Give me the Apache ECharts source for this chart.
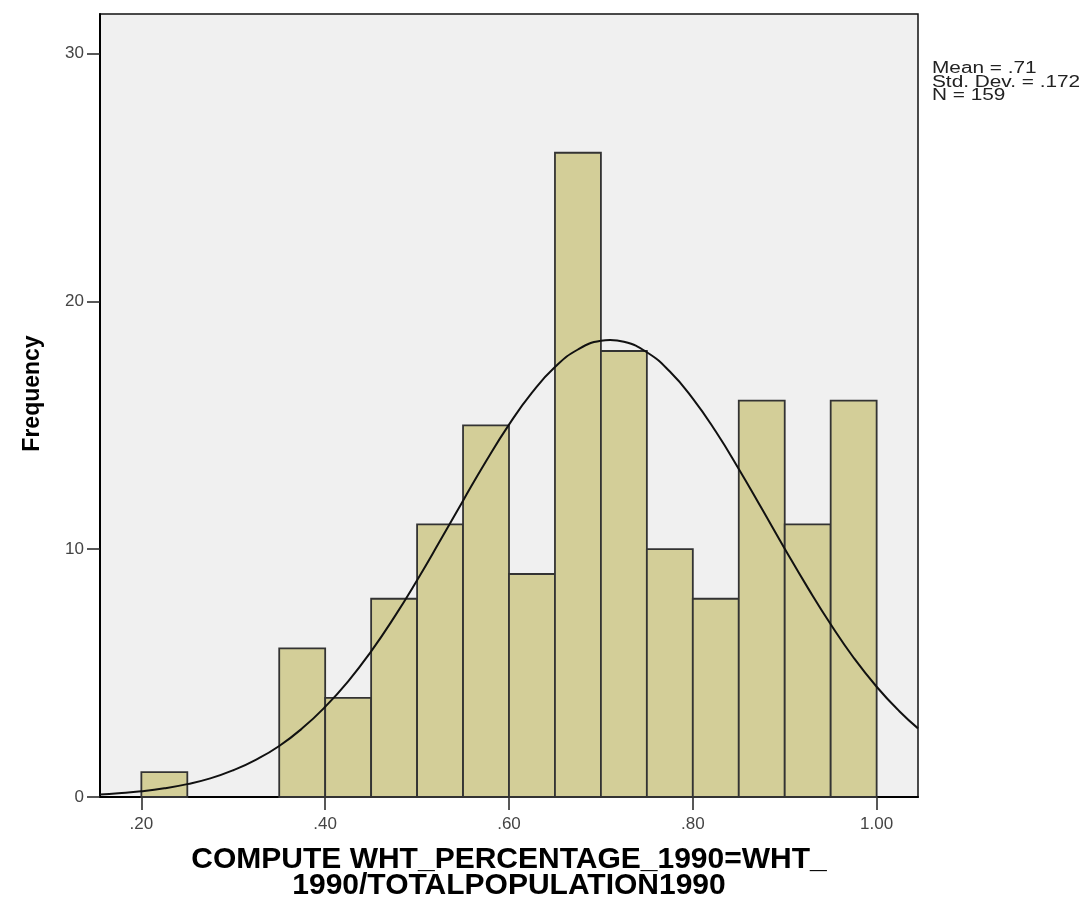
<!DOCTYPE html>
<html>
<head>
<meta charset="utf-8">
<script src="https://cdn.jsdelivr.net/npm/echarts@6/dist/echarts.min.js"></script>
<style>
html,body{margin:0;padding:0;background:#fff;}
#chart{width:1091px;height:915px;}
</style>
</head>
<body>
<div id="chart"></div>
<script>
// Histogram bins (lower edges) and frequencies
const binStarts = [0.20, 0.35, 0.40, 0.45, 0.50, 0.55, 0.60, 0.65, 0.70, 0.75, 0.80, 0.85, 0.90, 0.95];
const counts    = [1, 6, 4, 8, 11, 15, 9, 26, 18, 10, 8, 16, 11, 16];
const binWidth = 0.05;

// Normal curve points
const curveX = [0.155,0.175,0.2,0.225,0.25,0.275,0.3,0.325,0.35,0.375,0.4,0.425,0.45,0.475,0.5,0.525,0.55,0.575,0.6,0.625,0.65,0.675,0.7,0.71,0.725,0.75,0.775,0.8,0.825,0.85,0.875,0.9,0.925,0.95,0.975,1.0,1.025,1.045];
const curveY = [0.10,0.15,0.23,0.35,0.52,0.75,1.08,1.51,2.06,2.77,3.64,4.67,5.88,7.25,8.75,10.34,11.96,13.55,15.03,16.32,17.35,18.06,18.41,18.44,18.37,17.95,17.17,16.08,14.75,13.24,11.64,10.02,8.45,6.97,5.62,4.45,3.45,2.77];

const xTicks = [0.2, 0.4, 0.6, 0.8, 1.0];
const yTicks = [0, 10, 20, 30];
const statsText = ['Mean = .71', 'Std. Dev. = .172', 'N = 159'];
const xTitle = 'COMPUTE WHT_PERCENTAGE_1990=WHT_\n1990/TOTALPOPULATION1990';
const yTitle = 'Frequency';

function fmtX(v){ return v >= 1 ? v.toFixed(2) : v.toFixed(2).replace(/^0/, ''); }

const barData = binStarts.map((s, i) => [s, s + binWidth, counts[i]]);
const lineData = curveX.map((x, i) => [x, curveY[i]]);

const chart = echarts.init(document.getElementById('chart'));
const FONT = '"Liberation Sans", Arial, sans-serif';
chart.setOption({
  animation: false,
  backgroundColor: '#ffffff',
  grid: {
    left: 100, right: 173, top: 14, bottom: 118,
    outerBoundsMode: 'none', containLabel: false,
    show: true, backgroundColor: '#f0f0f0', borderColor: '#111', borderWidth: 1.5
  },
  xAxis: {
    type: 'value', min: 0.155, max: 1.045,
    splitLine: { show: false },
    axisLine: { show: true, onZero: false, lineStyle: { color: '#000', width: 2 } },
    axisTick: { show: true, customValues: xTicks, length: 13, lineStyle: { color: '#222', width: 1.5 } },
    axisLabel: { customValues: xTicks, formatter: fmtX, color: '#444', fontSize: 17, fontFamily: FONT, margin: 19 },
    name: xTitle, nameLocation: 'middle', nameGap: 50,
    nameTextStyle: { fontSize: 30, fontWeight: 'bold', color: '#000', fontFamily: FONT, lineHeight: 26 }
  },
  yAxis: {
    type: 'value', min: 0, max: 31.6,
    splitLine: { show: false },
    axisLine: { show: true, lineStyle: { color: '#000', width: 2 } },
    axisTick: { show: true, customValues: yTicks, length: 13, lineStyle: { color: '#222', width: 1.5 } },
    axisLabel: { customValues: yTicks, color: '#444', fontSize: 17, fontFamily: FONT, margin: 16 },
    name: yTitle, nameLocation: 'middle', nameGap: 56, nameRotate: 90,
    nameTextStyle: { fontSize: 23, fontWeight: 'bold', color: '#000', fontFamily: FONT, padding: [0, 0, 0, 24] }
  },
  graphic: [{
    type: 'text', x: 932, y: 62, scaleX: 1.3, scaleY: 1,
    style: { text: statsText.join('\n'), fontSize: 16, lineHeight: 13.5, fill: '#222', fontFamily: FONT, verticalAlign: 'top' }
  }],
  series: [{
    type: 'custom',
    data: barData,
    encode: { x: [0, 1], y: 2 },
    renderItem: function (params, api) {
      const p0 = api.coord([api.value(0), api.value(2)]);
      const p1 = api.coord([api.value(1), 0]);
      return {
        type: 'rect',
        shape: { x: p0[0], y: p0[1], width: p1[0] - p0[0], height: p1[1] - p0[1] },
        style: { fill: '#d3ce98', stroke: '#333', lineWidth: 1.8 }
      };
    },
    z: 2
  }, {
    type: 'line',
    data: lineData,
    smooth: true,
    showSymbol: false,
    symbol: 'none',
    lineStyle: { color: '#111', width: 2 },
    z: 3
  }]
});
</script>
</body>
</html>
